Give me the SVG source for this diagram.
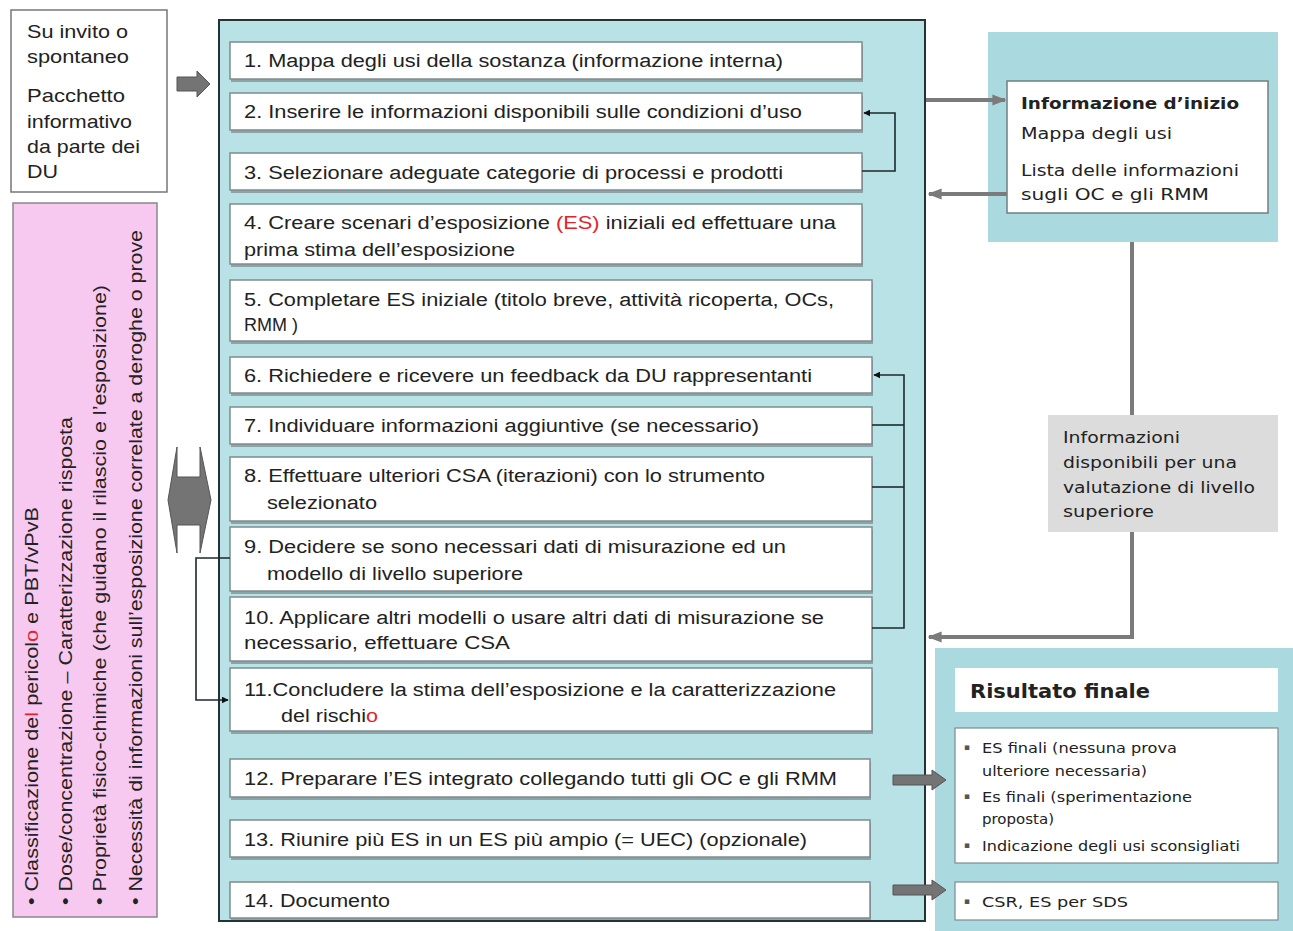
<svg xmlns="http://www.w3.org/2000/svg" width="1293" height="931" viewBox="0 0 1293 931">
<style>
.step{fill:#ffffff;stroke:#7d8c8e;stroke-width:1.5}
.shadow{fill:#8fa3a6}
.t{font-family:"Liberation Sans",Arial,sans-serif;font-size:18px;fill:#222}
.o{font-family:"DejaVu Sans","Open Sans",sans-serif;fill:#222}
.bul{font-family:"DejaVu Sans",sans-serif;font-size:9px;fill:#555}
.red{fill:#e3222c}
.loop{fill:none;stroke:#1c2a2c;stroke-width:1.6}
.gline{fill:none;stroke:#7b7b7b;stroke-width:4}
.blk{fill:#747474;stroke:#555;stroke-width:1}
</style>
<defs>
<marker id="ah" viewBox="0 0 10 10" refX="9" refY="5" markerWidth="7" markerHeight="7" orient="auto" markerUnits="userSpaceOnUse">
<path d="M0,0 L10,5 L0,10 z" fill="#111"/>
</marker>
<marker id="gh" viewBox="0 0 10 10" refX="9" refY="5" markerWidth="14" markerHeight="14" orient="auto" markerUnits="userSpaceOnUse">
<path d="M0,1 L10,5 L0,9 z" fill="#7b7b7b"/>
</marker>
</defs>
<rect width="1293" height="931" fill="#ffffff"/>

<g id="input">
<rect x="11" y="10" width="156" height="182" fill="#fff" stroke="#777" stroke-width="1.5"/>
<g class="t" style="font-size:19px">
<text x="27" y="38" textLength="101" lengthAdjust="spacingAndGlyphs">Su invito o</text>
<text x="27" y="63" textLength="102" lengthAdjust="spacingAndGlyphs">spontaneo</text>
<text x="27" y="102" textLength="98" lengthAdjust="spacingAndGlyphs">Pacchetto</text>
<text x="27" y="128" textLength="105" lengthAdjust="spacingAndGlyphs">informativo</text>
<text x="27" y="153" textLength="113" lengthAdjust="spacingAndGlyphs">da parte dei</text>
<text x="27" y="178" textLength="31" lengthAdjust="spacingAndGlyphs">DU</text>
</g>
</g>

<g id="hazard">
<rect x="13" y="203" width="144" height="714" fill="#f7c8f0" stroke="#888" stroke-width="1.5"/>
<text class="t" transform="translate(38,905) rotate(-90)" textLength="398" lengthAdjust="spacingAndGlyphs">• Classificazione de<tspan class="red">l</tspan> pericol<tspan class="red">o</tspan> e PBT/vPvB</text>
<text class="t" transform="translate(72,905) rotate(-90)" textLength="488" lengthAdjust="spacingAndGlyphs">• Dose/concentrazione – Caratterizzazione risposta</text>
<text class="t" transform="translate(106,905) rotate(-90)" textLength="620" lengthAdjust="spacingAndGlyphs">• Proprietà fisico-chimiche (che guidano il rilascio e l’esposizione)</text>
<text class="t" transform="translate(142,905) rotate(-90)" textLength="675" lengthAdjust="spacingAndGlyphs">• Necessità di informazioni sull’esposizione correlate a deroghe o prove</text>
</g>

<g id="panel">
<rect x="219" y="20" width="706" height="901" fill="#b9e2e6" stroke="#243436" stroke-width="2"/>
</g>

<g id="step1"><rect class="shadow" x="231" y="45" width="632" height="37"/><rect class="step" x="230" y="42" width="632" height="37"/>
<text class="t" x="244" y="67" textLength="539" lengthAdjust="spacingAndGlyphs">1. Mappa degli usi della sostanza (informazione interna)</text></g>
<g id="step2"><rect class="shadow" x="231" y="96" width="632" height="37"/><rect class="step" x="230" y="93" width="632" height="37"/>
<text class="t" x="244" y="118" textLength="558" lengthAdjust="spacingAndGlyphs">2. Inserire le informazioni disponibili sulle condizioni d’uso</text></g>
<g id="step3"><rect class="shadow" x="231" y="156" width="632" height="37"/><rect class="step" x="230" y="153" width="632" height="37"/>
<text class="t" x="244" y="179" textLength="539" lengthAdjust="spacingAndGlyphs">3. Selezionare adeguate categorie di processi e prodotti</text></g>
<g id="step4"><rect class="shadow" x="231" y="207" width="632" height="60"/><rect class="step" x="230" y="204" width="632" height="60"/>
<text class="t" x="244" y="229" textLength="592" lengthAdjust="spacingAndGlyphs">4. Creare scenari d’esposizione <tspan class="red">(ES)</tspan> iniziali ed effettuare una</text>
<text class="t" x="244" y="256" textLength="271" lengthAdjust="spacingAndGlyphs">prima stima dell’esposizione</text></g>
<g id="step5"><rect class="shadow" x="231" y="283" width="642" height="61"/><rect class="step" x="230" y="280" width="642" height="61"/>
<text class="t" x="244" y="306" textLength="590" lengthAdjust="spacingAndGlyphs">5. Completare ES iniziale (titolo breve, attività ricoperta, OCs,</text>
<text class="t" x="244" y="331">RMM )</text></g>
<g id="step6"><rect class="shadow" x="231" y="360" width="642" height="36"/><rect class="step" x="230" y="357" width="642" height="36"/>
<text class="t" x="244" y="382" textLength="568" lengthAdjust="spacingAndGlyphs">6. Richiedere e ricevere un feedback da DU rappresentanti</text></g>
<g id="step7"><rect class="shadow" x="231" y="410" width="642" height="37"/><rect class="step" x="230" y="407" width="642" height="37"/>
<text class="t" x="244" y="432" textLength="515" lengthAdjust="spacingAndGlyphs">7. Individuare informazioni aggiuntive (se necessario)</text></g>
<g id="step8"><rect class="shadow" x="231" y="460" width="642" height="64"/><rect class="step" x="230" y="457" width="642" height="64"/>
<text class="t" x="244" y="482" textLength="521" lengthAdjust="spacingAndGlyphs">8. Effettuare ulteriori CSA (iterazioni) con lo strumento</text>
<text class="t" x="267" y="509" textLength="110" lengthAdjust="spacingAndGlyphs">selezionato</text></g>
<g id="step9"><rect class="shadow" x="231" y="530" width="642" height="64"/><rect class="step" x="230" y="527" width="642" height="64"/>
<text class="t" x="244" y="553" textLength="542" lengthAdjust="spacingAndGlyphs">9. Decidere se sono necessari dati di misurazione ed un</text>
<text class="t" x="267" y="580" textLength="256" lengthAdjust="spacingAndGlyphs">modello di livello superiore</text></g>
<g id="step10"><rect class="shadow" x="231" y="600" width="642" height="64"/><rect class="step" x="230" y="597" width="642" height="64"/>
<text class="t" x="244" y="624" textLength="580" lengthAdjust="spacingAndGlyphs">10. Applicare altri modelli o usare altri dati di misurazione se</text>
<text class="t" x="244" y="649" textLength="266" lengthAdjust="spacingAndGlyphs">necessario,  effettuare CSA</text></g>
<g id="step11"><rect class="shadow" x="231" y="671" width="642" height="63"/><rect class="step" x="230" y="668" width="642" height="63"/>
<text class="t" x="244" y="696" textLength="592" lengthAdjust="spacingAndGlyphs">11.Concludere la stima dell’esposizione e la caratterizzazione</text>
<text class="t" x="281" y="722" textLength="97" lengthAdjust="spacingAndGlyphs">del rischi<tspan class="red">o</tspan></text></g>
<g id="step12"><rect class="shadow" x="231" y="762" width="640" height="38"/><rect class="step" x="230" y="759" width="640" height="38"/>
<text class="t" x="244" y="785" textLength="593" lengthAdjust="spacingAndGlyphs">12. Preparare l’ES integrato collegando tutti gli OC e gli RMM</text></g>
<g id="step13"><rect class="shadow" x="231" y="823" width="640" height="37"/><rect class="step" x="230" y="820" width="640" height="37"/>
<text class="t" x="244" y="846" textLength="563" lengthAdjust="spacingAndGlyphs">13. Riunire più ES in un ES più ampio (= UEC) (opzionale)</text></g>
<g id="step14"><rect class="shadow" x="231" y="885" width="640" height="35"/><rect class="step" x="230" y="882" width="640" height="36"/>
<text class="t" x="244" y="907" textLength="146" lengthAdjust="spacingAndGlyphs">14. Documento</text></g>

<g id="info-start">
<rect x="988" y="32" width="290" height="210" fill="#aadadf"/>
<rect x="1007" y="81" width="261" height="132" fill="#fff" stroke="#6f7f80" stroke-width="1.5"/>
<text class="o" x="1021" y="109" font-size="16" font-weight="bold" textLength="218" lengthAdjust="spacingAndGlyphs">Informazione d’inizio</text>
<text class="o" x="1021" y="139" font-size="16" textLength="151" lengthAdjust="spacingAndGlyphs">Mappa degli usi</text>
<text class="o" x="1021" y="176" font-size="16" textLength="218" lengthAdjust="spacingAndGlyphs">Lista delle informazioni</text>
<text class="o" x="1021" y="200" font-size="16" textLength="188" lengthAdjust="spacingAndGlyphs">sugli OC e gli RMM</text>
</g>

<g id="info-higher">
<rect x="1048" y="415" width="230" height="117" fill="#dcdcdc"/>
<text class="o" x="1063" y="443" font-size="15" textLength="117" lengthAdjust="spacingAndGlyphs">Informazioni</text>
<text class="o" x="1063" y="468" font-size="15" textLength="174" lengthAdjust="spacingAndGlyphs">disponibili per una</text>
<text class="o" x="1063" y="493" font-size="15" textLength="192" lengthAdjust="spacingAndGlyphs">valutazione di livello</text>
<text class="o" x="1063" y="517" font-size="15" textLength="91" lengthAdjust="spacingAndGlyphs">superiore</text>
</g>

<g id="result">
<rect x="935" y="648" width="358" height="283" fill="#aadadf"/>
<rect x="955" y="668" width="323" height="44" fill="#fff"/>
<text class="o" x="970" y="698" font-size="20" font-weight="bold" fill="#1d2430" textLength="180" lengthAdjust="spacingAndGlyphs">Risultato finale</text>
<rect x="955" y="728" width="323" height="135" fill="#fff" stroke="#7d8c8e" stroke-width="1.2"/>
<text class="bul" x="964" y="750">▪</text><text class="bul" x="964" y="799">▪</text><text class="bul" x="964" y="848">▪</text>
<g class="o" style="font-size:14px">
<text x="982" y="753" textLength="195" lengthAdjust="spacingAndGlyphs">ES finali (nessuna prova</text>
<text x="982" y="776" textLength="165" lengthAdjust="spacingAndGlyphs">ulteriore necessaria)</text>
<text x="982" y="802" textLength="210" lengthAdjust="spacingAndGlyphs">Es finali (sperimentazione</text>
<text x="982" y="824" textLength="72" lengthAdjust="spacingAndGlyphs">proposta)</text>
<text x="982" y="851" textLength="258" lengthAdjust="spacingAndGlyphs">Indicazione degli usi sconsigliati</text>
</g>
<rect x="955" y="882" width="323" height="38" fill="#fff" stroke="#7d8c8e" stroke-width="1.2"/>
<text class="bul" x="964" y="904">▪</text>
<text class="o" x="982" y="907" font-size="14" textLength="146" lengthAdjust="spacingAndGlyphs">CSR, ES per SDS</text>
</g>

<g id="connectors">
<polygon class="blk" points="177,77 197,77 197,71 210,84 197,97 197,91 177,91"/>
<polygon class="blk" points="168,500 177,447 177,477 200,477 200,447 211,500 200,553 200,525 177,525 177,553"/>
<polyline class="loop" points="862,171 895,171 895,113 864,113" marker-end="url(#ah)"/>
<polyline class="loop" points="872,628 904,628 904,375 874,375" marker-end="url(#ah)"/>
<line class="loop" x1="872" y1="425" x2="904" y2="425"/>
<line class="loop" x1="872" y1="487" x2="904" y2="487"/>
<polyline class="loop" points="230,558 196,558 196,700 228,700" marker-end="url(#ah)"/>
<line class="gline" x1="926" y1="100" x2="1005" y2="100" marker-end="url(#gh)"/>
<line class="gline" x1="1007" y1="194" x2="929" y2="194" marker-end="url(#gh)"/>
<line class="gline" x1="1132" y1="242" x2="1132" y2="415"/>
<polyline class="gline" points="1132,532 1132,637 929,637" marker-end="url(#gh)"/>
<polygon class="blk" points="893,775 932,775 932,770 946,780 932,790 932,785 893,785"/>
<polygon class="blk" points="893,885 932,885 932,880 946,890 932,900 932,895 893,895"/>
</g>
</svg>
